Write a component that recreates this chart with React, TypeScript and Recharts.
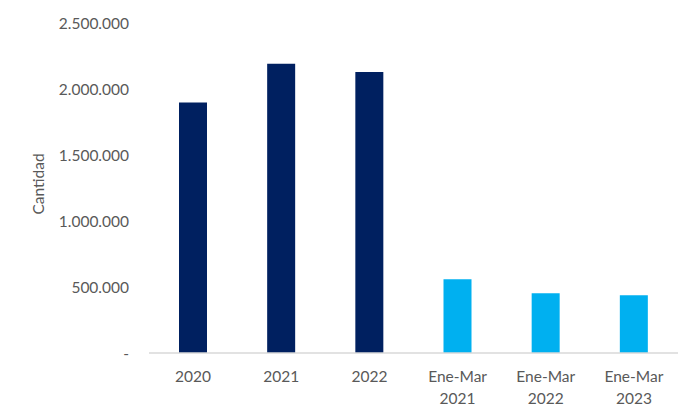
import React from 'react';
import { BarChart, Bar, XAxis, YAxis, Cell } from 'recharts';

const categories = ['2020', '2021', '2022', 'Ene-Mar 2021', 'Ene-Mar 2022', 'Ene-Mar 2023'];
const cantidad = [1897000, 2192000, 2129000, 558000, 452000, 437000];
const barColors = ['#002060', '#002060', '#002060', '#00B0F0', '#00B0F0', '#00B0F0'];
const yTicks = [0, 500000, 1000000, 1500000, 2000000, 2500000];

const data = categories.map((c, i) => ({ name: c, value: cantidad[i] }));

const FONT = 'Lato, "Open Sans", sans-serif';
const TEXT = '#595959';

const fmt = (v: number) => (v === 0 ? '-' : String(v).replace(/\B(?=(\d{3})+(?!\d))/g, '.'));

const XTick = (props: any) => {
  const { x, y, payload } = props;
  const lines = String(payload.value).split(' ');
  return (
    <text x={x} y={y} textAnchor="middle" fill={TEXT} fontSize={15.5} fontFamily={FONT}>
      {lines.map((l, i) => (
        <tspan key={i} x={x} dy={i === 0 ? 29.4 : 21.5}>
          {l}
        </tspan>
      ))}
    </text>
  );
};

export default function App() {
  return (
    <BarChart
      width={684}
      height={404}
      data={data}
      margin={{ top: 15, right: 14, left: 0, bottom: 9 }}
    >
      <XAxis
        dataKey="name"
        interval={0}
        height={50}
        tickLine={false}
        tickSize={0}
        tickMargin={0}
        axisLine={{ stroke: '#D9D9D9', strokeWidth: 1.5 }}
        tick={<XTick />}
      />
      <YAxis
        width={141}
        domain={[0, 2500000]}
        ticks={yTicks}
        interval={0}
        tickFormatter={fmt}
        axisLine={false}
        tickLine={false}
        tickSize={0}
        tickMargin={20}
        tick={{ fill: TEXT, fontSize: 15.5, fontFamily: FONT }}
        label={{
          value: 'Cantidad',
          angle: -90,
          position: 'insideLeft',
          dx: 25,
          dy: -4,
          style: { textAnchor: 'middle', fill: TEXT, fontSize: 15.5, fontFamily: FONT },
        }}
      />
      <Bar dataKey="value" barSize={28} isAnimationActive={false}>
        {data.map((d, i) => (
          <Cell key={d.name} fill={barColors[i]} />
        ))}
      </Bar>
    </BarChart>
  );
}
